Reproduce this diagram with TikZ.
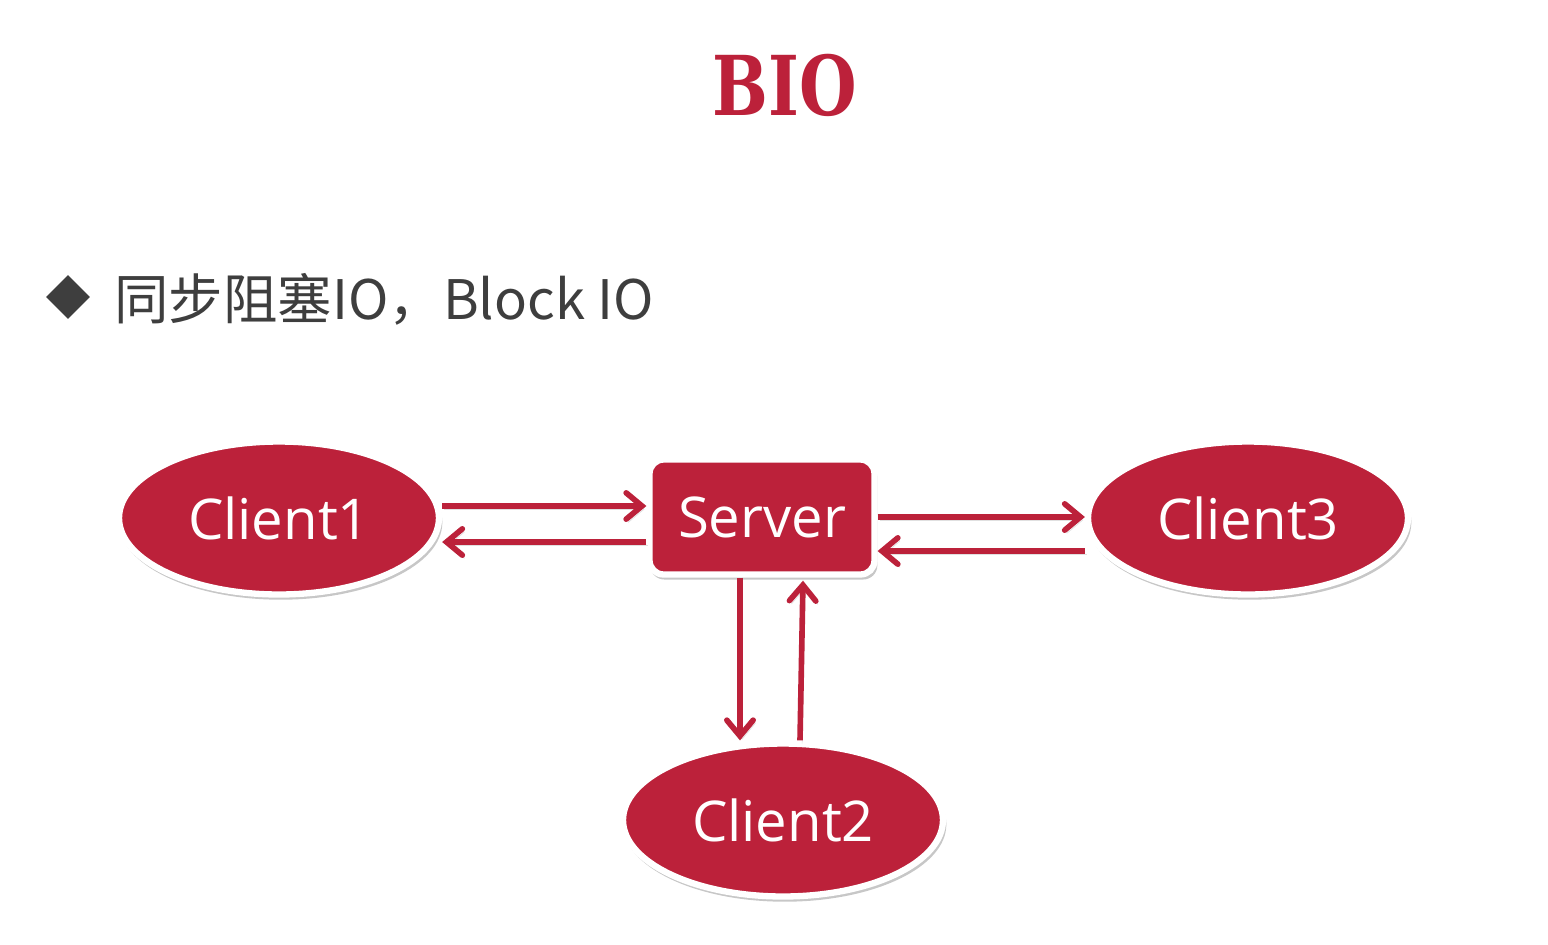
\documentclass[tikz,border=0pt]{standalone}
\usepackage{fontspec}
\newfontfamily\cjk{Noto Sans CJK SC}
\newfontfamily\lbl{Open Sans}
\newfontfamily\ttl{DejaVu Serif}
\usetikzlibrary{arrows.meta,shapes.geometric,shadows,calc}
\definecolor{bred}{RGB}{188,33,58}
\definecolor{tgray}{RGB}{62,62,62}
\begin{document}
\begin{tikzpicture}[x=0.02cm,y=-0.02cm,
  softshadow/.style={drop shadow={shadow xshift=1pt,shadow yshift=-2.5pt,shadow scale=1.01,opacity=0.22,fill=black}},
  client/.style={ellipse,fill=bred,draw=white,line width=3.6pt,minimum width=6.4cm,minimum height=3.06cm,inner sep=0pt,text=white,font=\lbl\fontsize{32}{38}\selectfont,softshadow},
  serverbox/.style={rectangle,rounded corners=8pt,fill=bred,draw=white,line width=3.6pt,minimum width=4.5cm,minimum height=2.3cm,inner sep=0pt,text=white,font=\lbl\fontsize{32}{38}\selectfont,softshadow},
  arr/.style={draw=bred,line width=3.2pt,-{Straight Barb[length=9pt,width=15pt,line cap=round]},
    preaction={draw=black,opacity=0.12,transform canvas={shift={(1.2pt,-1.8pt)}}}},
  bullet/.style={diamond,fill=tgray,inner sep=0pt,minimum size=0.88cm,aspect=1}
]
\useasboundingbox (0,0) rectangle (1548,944);
\fill[white] (0,0) rectangle (1548,944);

\node[text=bred,inner sep=0pt] (title) at (785,85) {\ttl\bfseries\fontsize{47}{56}\selectfont\scalebox{0.8}[1]{BIO}};

\node[bullet] (dot) at (68,297) {};
\node[anchor=base west,inner sep=0pt,text=tgray,font=\cjk\fontsize{31}{38}\selectfont] (sub) at (114,319) {同步阻塞IO，Block IO};

\node[client] (c1) at (279,518) {Client1};
\node[serverbox] (srv) at (762,517) {Server};
\node[client] (c3) at (1248,518) {Client3};
\node[client] (c2) at (783,820) {Client2};

\draw[arr] ($(c1.east)+(0,-12)$) -- ($(srv.west)+(0,-11)$);
\draw[arr] ($(srv.west)+(0,25)$) -- ($(c1.east)+(0,24)$);
\draw[arr] (srv.east) -- ($(c3.west)+(0,-1)$);
\draw[arr] ($(c3.west)+(0,33)$) -- ($(srv.east)+(0,34)$);
\draw[arr] ($(srv.south)+(-22,0)$) -- ($(c2.north)+(-43,0)$);
\draw[arr] ($(c2.north)+(17,0)$) -- ($(srv.south)+(41,3)$);
\end{tikzpicture}
\end{document}
